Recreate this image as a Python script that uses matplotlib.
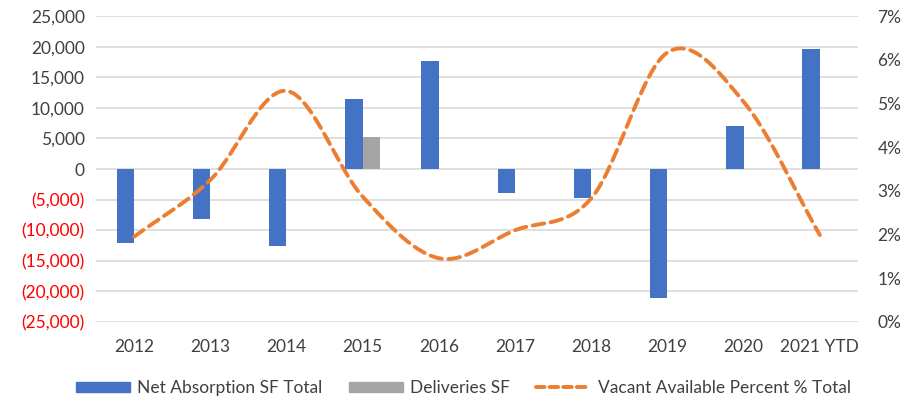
import numpy as np
import matplotlib
matplotlib.use("Agg")
import matplotlib.pyplot as plt
from matplotlib.ticker import FuncFormatter, PercentFormatter
from matplotlib.patches import Patch
from matplotlib.lines import Line2D

years = ["2012", "2013", "2014", "2015", "2016", "2017", "2018", "2019", "2020", "2021 YTD"]
net_absorption = [-12100, -8200, -12500, 11500, 17700, -3900, -4800, -21100, 7000, 19600]
deliveries = [0, 0, 0, 5200, 0, 0, 0, 0, 0, 0]
vacancy_pct = [1.95, 3.25, 5.29, 2.87, 1.46, 2.1, 2.83, 6.17, 5.04, 1.99]

plt.rcParams['font.family'] = ['Lato', 'DejaVu Sans']

BLUE = "#4472C4"
GRAY = "#A5A5A5"
ORANGE = "#ED7D31"
TXT = "#404040"

fig = plt.figure(figsize=(9.05, 4.04), dpi=100)
ax = fig.add_axes([0.106, 0.203, 0.842, 0.757])
ax2 = ax.twinx()

x = np.arange(len(years))
w = 0.23
ax.bar(x - w / 2, net_absorption, width=w, color=BLUE, zorder=2)
ax.bar(x + w / 2, deliveries, width=w, color=GRAY, zorder=2)

ax.set_ylim(-25000, 25000)
ax.set_yticks(np.arange(-25000, 25001, 5000))
ax.set_xlim(-0.5, len(years) - 0.5)
ax.set_xticks(x)
ax.set_xticklabels(years)

def fmt(v, pos):
    if v < 0:
        return "({:,.0f})".format(-v)
    return "{:,.0f}".format(v)

ax.yaxis.set_major_formatter(FuncFormatter(fmt))
ax.grid(axis='y', color="#D9D9D9", linewidth=1.2, zorder=0)
ax.set_axisbelow(True)
for s in ax.spines.values():
    s.set_visible(False)
for s in ax2.spines.values():
    s.set_visible(False)
ax.tick_params(axis='both', length=0, labelsize=12.5, colors=TXT, pad=8)
ax.tick_params(axis='x', pad=12)
for lab, v in zip(ax.get_yticklabels(), ax.get_yticks()):
    if v < 0:
        lab.set_color("#FF0000")

# Smoothed line (Catmull-Rom through the data points)
def catmull_rom(xs, ys, n=30):
    xs = np.asarray(xs, float)
    ys = np.asarray(ys, float)
    px = np.concatenate([[2 * xs[0] - xs[1]], xs, [2 * xs[-1] - xs[-2]]])
    py = np.concatenate([[2 * ys[0] - ys[1]], ys, [2 * ys[-1] - ys[-2]]])
    ox, oy = [], []
    t = np.linspace(0, 1, n)
    for i in range(1, len(px) - 2):
        p0, p1, p2, p3 = (np.array([px[j], py[j]]) for j in (i - 1, i, i + 1, i + 2))
        tt = t[:, None]
        pts = 0.5 * ((2 * p1) + (-p0 + p2) * tt + (2 * p0 - 5 * p1 + 4 * p2 - p3) * tt ** 2
                     + (-p0 + 3 * p1 - 3 * p2 + p3) * tt ** 3)
        if i > 1:
            pts = pts[1:]
        ox.extend(pts[:, 0])
        oy.extend(pts[:, 1])
    return np.array(ox), np.array(oy)

sx, sy = catmull_rom(x, vacancy_pct)
ax2.plot(sx, sy, color=ORANGE, linewidth=2.8, linestyle=(0, (3.0, 1.7)),
         dash_capstyle='round', solid_capstyle='round', zorder=3)
ax2.set_ylim(0, 7)
ax2.yaxis.set_major_formatter(PercentFormatter(decimals=0))
ax2.set_yticks(np.arange(0, 8, 1))
ax2.tick_params(axis='y', length=0, labelsize=12.5, colors=TXT, pad=14)

handles = [Patch(color=BLUE), Patch(color=GRAY),
           Line2D([0], [0], color=ORANGE, linewidth=2.8, linestyle=(0, (2.2, 1.3)),
                  dash_capstyle='round')]
labels = ["Net Absorption SF Total", "Deliveries SF", "Vacant Available Percent % Total"]
leg = fig.legend(handles, labels, loc='center', bbox_to_anchor=(0.512, 0.04), ncol=3,
                 frameon=False, fontsize=12.5, handlelength=3.1, handleheight=0.5,
                 columnspacing=1.5, handletextpad=0.45)
for t in leg.get_texts():
    t.set_color(TXT)

fig.savefig("out.png", dpi=100)
